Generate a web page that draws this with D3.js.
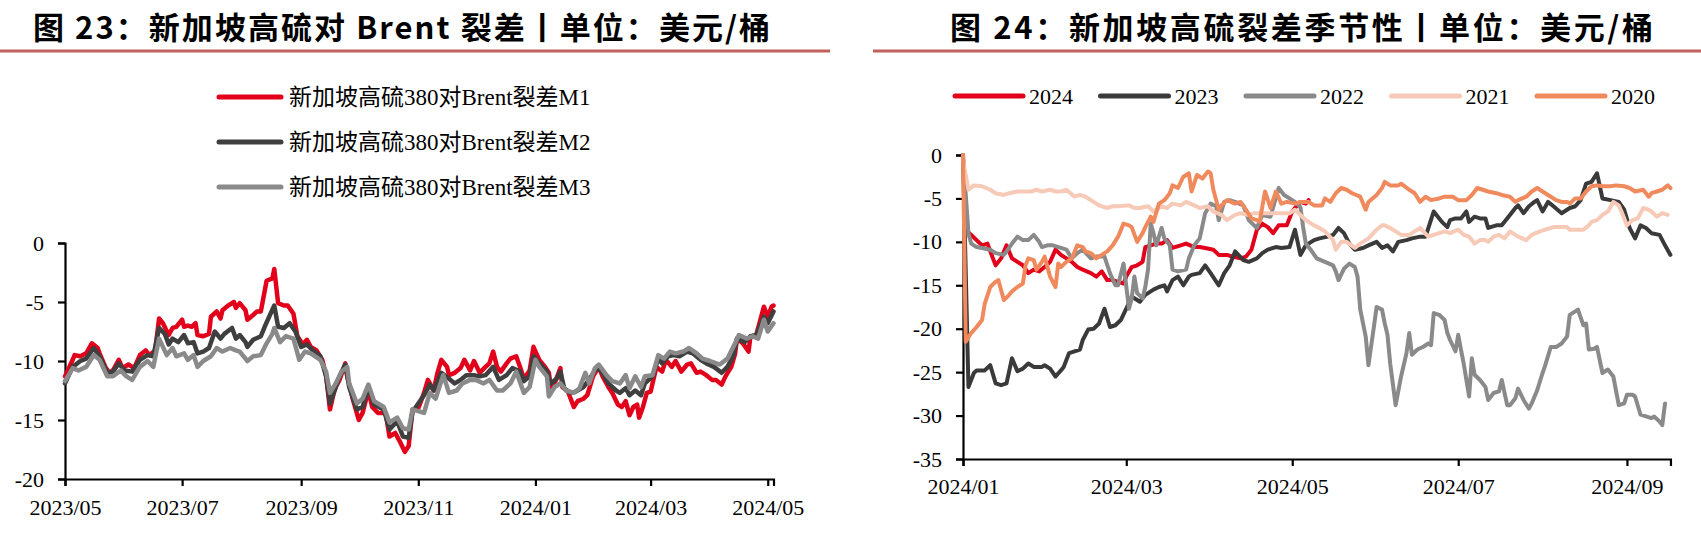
<!DOCTYPE html>
<html>
<head>
<meta charset="utf-8">
<script src="https://cdn.jsdelivr.net/npm/d3@7/dist/d3.min.js"></script>
<style>
    body { margin: 0; background: #fff; }
    svg text { font-family: "Liberation Serif", "Noto Sans CJK SC", serif; fill: #000; }
    .title { font-family: "Noto Sans CJK SC", sans-serif !important; font-weight: bold; }
</style>
</head>
<body>
<svg id="chart" width="1701" height="538"></svg>
<script>
// ---- left chart: 新加坡高硫380对Brent裂差 M1/M2/M3 ----
const leftNames = ["新加坡高硫380对Brent裂差M1", "新加坡高硫380对Brent裂差M2", "新加坡高硫380对Brent裂差M3"];
const leftColors = ["#e2001a", "#3f3f3f", "#8a8a8a"];
const leftXTicks = ["2023-05-01", "2023-07-01", "2023-09-01", "2023-11-01", "2024-01-01", "2024-03-01", "2024-05-01"];
const leftYTicks = [0, -5, -10, -15, -20];

const m1Dates = ["2023-05-01","2023-05-05","2023-05-06","2023-05-09","2023-05-12","2023-05-15","2023-05-18","2023-05-19","2023-05-22","2023-05-24","2023-05-26","2023-05-29","2023-05-31","2023-06-03","2023-06-06","2023-06-09","2023-06-12","2023-06-14","2023-06-17","2023-06-19","2023-06-21","2023-06-24","2023-06-26","2023-06-28","2023-07-01","2023-07-02","2023-07-04","2023-07-06","2023-07-08","2023-07-09","2023-07-12","2023-07-15","2023-07-16","2023-07-19","2023-07-21","2023-07-22","2023-07-25","2023-07-28","2023-07-29","2023-07-31","2023-08-03","2023-08-04","2023-08-07","2023-08-09","2023-08-11","2023-08-14","2023-08-17","2023-08-18","2023-08-20","2023-08-23","2023-08-25","2023-08-28","2023-08-30","2023-09-02","2023-09-04","2023-09-06","2023-09-09","2023-09-12","2023-09-14","2023-09-16","2023-09-18","2023-09-19","2023-09-21","2023-09-24","2023-09-25","2023-09-28","2023-10-01","2023-10-03","2023-10-06","2023-10-08","2023-10-11","2023-10-15","2023-10-17","2023-10-20","2023-10-22","2023-10-25","2023-10-27","2023-10-29","2023-11-01","2023-11-04","2023-11-06","2023-11-09","2023-11-11","2023-11-13","2023-11-16","2023-11-17","2023-11-20","2023-11-23","2023-11-25","2023-11-28","2023-11-30","2023-12-03","2023-12-06","2023-12-08","2023-12-10","2023-12-12","2023-12-14","2023-12-17","2023-12-19","2023-12-22","2023-12-24","2023-12-26","2023-12-29","2023-12-31","2024-01-01","2024-01-03","2024-01-06","2024-01-08","2024-01-09","2024-01-11","2024-01-14","2024-01-15","2024-01-18","2024-01-21","2024-01-23","2024-01-26","2024-01-28","2024-01-31","2024-02-03","2024-02-05","2024-02-08","2024-02-10","2024-02-13","2024-02-15","2024-02-17","2024-02-19","2024-02-21","2024-02-23","2024-02-24","2024-02-26","2024-02-28","2024-03-01","2024-03-04","2024-03-07","2024-03-09","2024-03-12","2024-03-14","2024-03-17","2024-03-20","2024-03-22","2024-03-25","2024-03-27","2024-03-30","2024-04-02","2024-04-04","2024-04-07","2024-04-09","2024-04-12","2024-04-14","2024-04-15","2024-04-18","2024-04-21","2024-04-22","2024-04-25","2024-04-28","2024-04-29","2024-05-01","2024-05-03","2024-05-04"];
const m1Values = [-11.3,-9.9,-9.5,-9.6,-9.35,-8.5,-8.9,-9.35,-10.5,-11,-10.8,-9.9,-10.6,-10.3,-10.6,-9.5,-9.1,-9.5,-9.1,-6.4,-6.8,-7.8,-7.2,-7.1,-6.5,-7.1,-7,-7.1,-6.8,-7.8,-7.9,-7.7,-6.25,-5.8,-6.4,-5.7,-5.3,-5,-5.5,-5.1,-5.7,-6.5,-6.1,-5.8,-5.8,-3.2,-3.0,-2.2,-5.1,-5.3,-5.3,-6,-7.9,-8.6,-8.2,-8.8,-9.1,-9.9,-11.3,-14.1,-12.7,-12.2,-11.6,-10.2,-11.3,-13.3,-15,-14.4,-12.5,-13.9,-14.4,-14.4,-16.4,-16.1,-16.7,-17.7,-17.2,-14.1,-14,-12.7,-11.6,-12.5,-11,-9.9,-10.5,-11.2,-11,-10.6,-9.9,-10.8,-10,-11,-10.5,-10.2,-9.2,-10.5,-10.9,-10.2,-9.8,-9.6,-10.5,-11.5,-10.8,-8.8,-9.2,-9.9,-10.5,-11,-12.2,-11.9,-10.6,-12.2,-12.6,-13.9,-13.4,-13.2,-12.9,-11.3,-10.5,-11.3,-12.2,-12.7,-13.7,-13.9,-13.4,-14.6,-13.9,-13.7,-14.8,-13.9,-12.7,-12.6,-10.5,-10.9,-9.9,-10.5,-10,-10.9,-10.3,-10.2,-11,-10.9,-11.2,-11.6,-11.6,-12,-11.3,-10.5,-9.4,-8.1,-8.5,-9.2,-7.9,-7.8,-6,-5.4,-6.25,-5.4,-5.3];

const m2Dates = ["2023-05-01","2023-05-05","2023-05-09","2023-05-12","2023-05-16","2023-05-19","2023-05-23","2023-05-26","2023-05-29","2023-06-01","2023-06-05","2023-06-09","2023-06-13","2023-06-16","2023-06-19","2023-06-22","2023-06-24","2023-06-26","2023-06-29","2023-07-02","2023-07-04","2023-07-07","2023-07-09","2023-07-12","2023-07-15","2023-07-18","2023-07-21","2023-07-23","2023-07-27","2023-07-29","2023-07-31","2023-08-03","2023-08-04","2023-08-07","2023-08-11","2023-08-13","2023-08-16","2023-08-18","2023-08-20","2023-08-23","2023-08-26","2023-08-29","2023-09-01","2023-09-04","2023-09-07","2023-09-11","2023-09-14","2023-09-16","2023-09-19","2023-09-21","2023-09-24","2023-09-26","2023-09-30","2023-10-03","2023-10-06","2023-10-09","2023-10-14","2023-10-17","2023-10-21","2023-10-24","2023-10-27","2023-10-29","2023-11-04","2023-11-07","2023-11-09","2023-11-13","2023-11-17","2023-11-20","2023-11-23","2023-11-26","2023-11-30","2023-12-03","2023-12-06","2023-12-10","2023-12-13","2023-12-17","2023-12-20","2023-12-24","2023-12-26","2023-12-29","2023-12-31","2024-01-03","2024-01-07","2024-01-09","2024-01-12","2024-01-14","2024-01-16","2024-01-19","2024-01-22","2024-01-26","2024-01-29","2024-02-02","2024-02-05","2024-02-08","2024-02-12","2024-02-14","2024-02-17","2024-02-19","2024-02-22","2024-02-25","2024-02-27","2024-03-02","2024-03-05","2024-03-07","2024-03-10","2024-03-13","2024-03-16","2024-03-20","2024-03-23","2024-03-27","2024-03-30","2024-04-03","2024-04-07","2024-04-10","2024-04-13","2024-04-15","2024-04-19","2024-04-22","2024-04-25","2024-04-29","2024-05-01","2024-05-04"];
const m2Values = [-11.9,-10.5,-10,-9.8,-8.9,-9.6,-11,-10.9,-10.2,-10.8,-10.9,-9.9,-9.5,-9.6,-7.2,-7.7,-8.6,-8.1,-8.4,-7.8,-8.5,-8.4,-9.35,-9.2,-8.9,-7.5,-8.1,-7.7,-7.2,-8.1,-7.8,-8.4,-8.8,-8.2,-7.9,-7.1,-6,-5.3,-7.1,-7.2,-6.8,-7.5,-8.8,-8.6,-9.1,-9.6,-11.3,-13.6,-12.2,-11.3,-10.3,-12.2,-14.1,-13.9,-12.2,-13.7,-14.1,-15.8,-15.1,-16.4,-16.5,-14.3,-12.9,-12,-12.5,-11,-11.5,-11.9,-11.6,-11.2,-11.2,-11.3,-11.2,-10.5,-11.6,-11.2,-10.6,-10.9,-11.7,-11.3,-9.6,-10.2,-10.9,-11.9,-11.5,-10.9,-12.3,-12.7,-12.6,-12.2,-11.6,-10.5,-11,-11.9,-12.5,-12.7,-12.3,-12.9,-12.5,-12.9,-11.9,-11.3,-9.8,-10.2,-9.6,-9.5,-9.6,-9.2,-9.35,-9.9,-10.2,-10.5,-11,-10.5,-9.6,-8.1,-8.4,-7.9,-7.8,-6.25,-6.8,-5.8];

const m3Dates = ["2023-05-01","2023-05-05","2023-05-08","2023-05-12","2023-05-16","2023-05-19","2023-05-23","2023-05-26","2023-05-30","2023-06-02","2023-06-05","2023-06-09","2023-06-13","2023-06-16","2023-06-19","2023-06-23","2023-06-26","2023-06-28","2023-07-02","2023-07-04","2023-07-07","2023-07-09","2023-07-12","2023-07-16","2023-07-19","2023-07-22","2023-07-26","2023-07-29","2023-07-31","2023-08-04","2023-08-07","2023-08-11","2023-08-14","2023-08-17","2023-08-18","2023-08-21","2023-08-24","2023-08-28","2023-08-31","2023-09-03","2023-09-06","2023-09-11","2023-09-14","2023-09-16","2023-09-19","2023-09-22","2023-09-25","2023-09-26","2023-09-30","2023-10-03","2023-10-06","2023-10-09","2023-10-14","2023-10-17","2023-10-21","2023-10-24","2023-10-27","2023-10-29","2023-11-04","2023-11-07","2023-11-10","2023-11-14","2023-11-17","2023-11-21","2023-11-24","2023-11-28","2023-12-01","2023-12-05","2023-12-08","2023-12-12","2023-12-15","2023-12-19","2023-12-22","2023-12-26","2023-12-29","2024-01-01","2024-01-03","2024-01-07","2024-01-08","2024-01-11","2024-01-14","2024-01-17","2024-01-21","2024-01-24","2024-01-27","2024-01-29","2024-02-01","2024-02-03","2024-02-07","2024-02-10","2024-02-14","2024-02-17","2024-02-19","2024-02-22","2024-02-25","2024-02-27","2024-03-02","2024-03-05","2024-03-08","2024-03-11","2024-03-14","2024-03-18","2024-03-21","2024-03-25","2024-03-28","2024-04-01","2024-04-06","2024-04-10","2024-04-14","2024-04-16","2024-04-20","2024-04-23","2024-04-26","2024-04-29","2024-05-01","2024-05-04"];
const m3Values = [-11.7,-10.6,-10.8,-10.5,-9.5,-9.9,-11.3,-11.3,-10.8,-11.3,-11.6,-10.5,-10,-10.5,-8.1,-9.5,-8.9,-9.6,-9.35,-9.9,-9.5,-10.5,-10,-9.6,-8.9,-9.2,-8.9,-9.1,-9.2,-10,-9.6,-9.5,-8.5,-7.7,-7.2,-8.4,-7.9,-8.1,-9.9,-9.2,-9.35,-9.9,-10.9,-12.7,-11.9,-10.9,-10.5,-11.9,-13.6,-13.2,-12,-13.4,-13.9,-15.2,-14.8,-15.7,-15.8,-14.1,-14.4,-12.7,-13.2,-11.2,-12.7,-12.5,-11.9,-11.6,-11.6,-11.9,-11.6,-12.5,-12.5,-11.9,-10.9,-12.7,-12.2,-9.9,-10.5,-11.3,-13,-12.2,-11.9,-12.5,-12.7,-12.3,-11,-11.9,-10.6,-10.3,-11.2,-11.7,-11.9,-11.2,-12.3,-11.3,-12.2,-11.3,-11.2,-9.5,-9.8,-9.2,-9.35,-9.2,-8.9,-9.35,-9.8,-10,-10.3,-9.8,-8.5,-7.8,-8.1,-7.9,-8.1,-6.5,-7.5,-6.8];

// ---- right chart: 季节性 (month-day on a 2024 axis) ----
const rightNames = ["2024", "2023", "2022", "2021", "2020"];
const rightColors = ["#e2001a", "#3a3a3a", "#8a8a8a", "#f6cab7", "#f08a5d"];
const rightXTicks = ["01-01", "03-01", "05-01", "07-01", "09-01"];
const rightYTicks = [0, -5, -10, -15, -20, -25, -30, -35];

const s2024Dates = ["01-02","01-06","01-08","01-10","01-12","01-13","01-15","01-17","01-19","01-21","01-23","01-25","01-27","01-29","01-31","02-02","02-04","02-06","02-08","02-10","02-12","02-14","02-17","02-19","02-21","02-23","02-25","02-27","02-29","03-01","03-03","03-05","03-07","03-08","03-10","03-12","03-14","03-16","03-18","03-21","03-23","03-26","03-28","03-30","04-02","04-04","04-07","04-09","04-12","04-14","04-16","04-18","04-20","04-22","04-24","04-26","04-29","05-01","05-02","05-04","05-06","05-07"];
const s2024Values = [-8.6,-9.8,-10.4,-10.2,-11.9,-12.7,-11.9,-10.4,-11.9,-12.3,-12.7,-13.6,-13.2,-13.4,-12.9,-12.3,-10.9,-11.5,-11.9,-12.3,-12.9,-13.2,-13.6,-14,-13.4,-14.4,-14.4,-14.6,-14.8,-14,-12.9,-12.7,-12.3,-10.6,-10.4,-10.2,-10.2,-9.8,-10.7,-10.4,-10.2,-10.6,-10.6,-10.7,-10.9,-11.5,-11.5,-11.7,-11.9,-11.7,-10.9,-8.6,-7.9,-8.3,-9.0,-8.1,-8.1,-6.5,-6.1,-5.4,-5.6,-5.2];

const s2023Dates = ["01-01","01-03","01-05","01-06","01-09","01-11","01-13","01-15","01-17","01-19","01-21","01-23","01-25","01-27","01-30","01-31","02-02","02-04","02-06","02-07","02-09","02-11","02-13","02-14","02-16","02-18","02-20","02-22","02-24","02-26","02-28","03-01","03-03","03-05","03-06","03-08","03-11","03-13","03-15","03-16","03-18","03-20","03-22","03-24","03-25","03-28","03-30","04-01","04-04","04-06","04-08","04-10","04-13","04-15","04-18","04-20","04-22","04-25","04-27","04-30","05-02","05-04","05-06","05-09","05-11","05-14","05-16","05-18","05-20","05-22","05-24","05-27","05-29","06-01","06-03","06-05","06-07","06-09","06-12","06-14","06-17","06-19","06-22","06-23","06-25","06-27","06-28","06-30","07-02","07-04","07-05","07-07","07-09","07-11","07-12","07-15","07-17","07-20","07-22","07-23","07-25","07-27","07-29","07-30","08-01","08-03","08-05","08-08","08-10","08-11","08-13","08-15","08-17","08-19","08-21","08-23","08-26","08-29","08-31","09-02","09-04","09-06","09-08","09-10","09-13","09-15","09-17"];
const s2023Values = [0,-26.7,-25.1,-24.8,-24.8,-24.2,-26.3,-26.5,-26.3,-23.4,-24.9,-24.6,-24,-24.4,-24.4,-24.2,-24.6,-25.5,-24.8,-24.4,-22.8,-22.6,-22.4,-21.3,-20.1,-20,-19.4,-17.7,-19.8,-19.6,-19,-17.7,-16.3,-16.7,-16.9,-16.1,-15.5,-15.2,-15,-15.7,-14.4,-14,-15,-14,-13.8,-13.6,-12.7,-13.6,-15,-13.6,-12.7,-11.1,-12.1,-12.3,-11.9,-11.3,-10.9,-10.6,-10.7,-10.6,-8.6,-11.5,-10.4,-9.8,-9.6,-9.4,-9.2,-8.4,-9,-10.2,-10.9,-10.7,-10.4,-10,-10.7,-10.4,-11.1,-10,-9.8,-9.6,-9.4,-9.4,-6.5,-6.9,-7.7,-8.3,-7.5,-7.3,-7.3,-6.5,-7.7,-7.1,-7.3,-7.3,-8.4,-8.1,-8.1,-6.9,-6.1,-5.8,-6.7,-5.9,-5.4,-5.2,-6.5,-5.4,-5.9,-6.7,-6.3,-6.1,-5.9,-5.2,-3.3,-3.1,-2.1,-5,-5.2,-5.4,-6.3,-8.4,-9.6,-8.1,-8.4,-9,-9.2,-10.4,-11.5];

const s2022Dates = ["01-01","01-03","01-04","01-06","01-08","01-11","01-13","01-16","01-17","01-19","01-21","01-23","01-25","01-27","01-29","01-30","02-01","02-03","02-06","02-08","02-10","02-12","02-14","02-17","02-19","02-22","02-24","02-26","02-27","02-29","03-02","03-03","03-04","03-05","03-07","03-08","03-09","03-10","03-11","03-12","03-14","03-15","03-17","03-18","03-20","03-23","03-24","03-26","03-28","03-30","04-01","04-03","04-04","04-06","04-08","04-10","04-13","04-15","04-18","04-20","04-23","04-26","04-28","04-30","05-02","05-04","05-05","05-06","05-08","05-10","05-13","05-16","05-17","05-18","05-20","05-22","05-24","05-25","05-26","05-28","05-29","05-31","06-01","06-03","06-04","06-05","06-06","06-08","06-10","06-12","06-13","06-14","06-16","06-18","06-20","06-21","06-22","06-24","06-26","06-27","06-28","06-30","07-01","07-02","07-03","07-05","07-06","07-07","07-09","07-11","07-12","07-14","07-16","07-17","07-19","07-20","07-22","07-23","07-25","07-27","07-28","07-30","08-01","08-02","08-04","08-06","08-08","08-10","08-11","08-13","08-14","08-16","08-17","08-18","08-20","08-21","08-23","08-25","08-27","08-29","08-31","09-01","09-03","09-04","09-06","09-08","09-10","09-11","09-13","09-14","09-15"];
const s2022Values = [0,-9,-10.2,-10.6,-10.7,-10.9,-11.3,-11.5,-11.1,-10.2,-9.4,-9.8,-9.8,-9.2,-10,-10.6,-10.4,-10.4,-10.7,-10.9,-11.9,-11.3,-10.9,-11.9,-11.7,-11.7,-13.6,-15,-15,-12.5,-17.7,-16.5,-14,-15.9,-16.5,-15.2,-13.2,-7.9,-9,-10.4,-8.4,-9.6,-10.4,-13.2,-13.4,-13.2,-11.9,-10.4,-9.6,-6.7,-5.6,-5.9,-7.5,-5.4,-5.2,-5.4,-5.8,-7.5,-8.4,-6.9,-7.1,-3.8,-4.6,-5,-5.4,-6,-8.3,-10.2,-11,-11.9,-12.3,-12.7,-13.4,-14.4,-13.1,-12.5,-12.9,-14,-17.8,-20.9,-24.2,-19.8,-17.5,-17.8,-19.4,-20.7,-24,-28.8,-25.5,-22.8,-20.5,-23,-22.4,-22.1,-21.7,-21.9,-18.2,-18.4,-19,-20.5,-21.3,-22.6,-20.7,-22.4,-24,-27.8,-23.4,-25.3,-25.9,-26.7,-28.2,-27.4,-27.2,-25.9,-28.8,-28.8,-28,-26.9,-28.2,-29.2,-28.6,-27.1,-25.1,-24.2,-22.1,-22.1,-21.7,-20.9,-18.4,-18,-17.8,-19.6,-19.4,-22.4,-22.3,-22.1,-25.1,-24.7,-25.5,-28.8,-28.6,-27.6,-27.6,-27.8,-29.9,-30.1,-30.3,-30.1,-30.7,-31.1,-28.6];

const s2021Dates = ["01-01","01-03","01-05","01-08","01-11","01-13","01-16","01-18","01-21","01-23","01-26","01-28","01-30","02-02","02-04","02-06","02-08","02-11","02-13","02-15","02-18","02-20","02-23","02-25","02-27","03-02","03-04","03-06","03-09","03-11","03-14","03-16","03-18","03-21","03-23","03-26","03-28","03-31","04-02","04-05","04-07","04-10","04-12","04-15","04-17","04-20","04-22","04-26","04-30","05-02","05-04","05-06","05-09","05-11","05-13","05-16","05-17","05-19","05-21","05-24","05-26","05-29","06-01","06-03","06-04","06-06","06-08","06-10","06-13","06-15","06-17","06-20","06-22","06-24","06-26","06-28","07-01","07-03","07-05","07-07","07-09","07-11","07-12","07-14","07-16","07-18","07-20","07-22","07-23","07-26","07-28","07-31","08-02","08-05","08-07","08-10","08-11","08-13","08-16","08-18","08-19","08-21","08-23","08-25","08-27","08-29","08-30","09-01","09-03","09-05","09-07","09-09","09-10","09-12","09-14","09-16"];
const s2021Values = [-0.6,-4,-3.5,-3.6,-4,-4.4,-4.6,-4.4,-4.2,-4.2,-4.2,-4,-4.2,-4,-4.2,-4.2,-4,-4.8,-4.6,-4.8,-5.4,-5.8,-6.1,-5.9,-5.9,-5.8,-6.1,-6.1,-5.9,-6.5,-5.9,-6.1,-5.6,-5.8,-5.4,-5.8,-6.1,-5.9,-6.5,-6.9,-7.5,-6.9,-6.7,-6.9,-6.7,-6.7,-6.7,-6.7,-6.7,-6.3,-6.9,-7.5,-8.1,-8.4,-8.8,-9.8,-10.9,-10,-10,-10.7,-10.2,-9.6,-8.6,-8.1,-8.1,-8.4,-8.8,-9.2,-9.2,-8.8,-8.4,-9.4,-9.2,-9,-8.8,-9,-8.6,-9.2,-9.4,-10.2,-9.8,-9.8,-10,-9.4,-9.2,-9.6,-8.8,-9.2,-9.4,-9.8,-9.2,-8.8,-8.6,-8.3,-8.3,-8.3,-8.6,-8.6,-8.6,-8.1,-7.7,-7.5,-6.9,-6.5,-5.4,-5.8,-6.5,-8.1,-7.5,-7.3,-6.1,-6.3,-6.5,-7.1,-6.7,-6.9];

const s2020Dates = ["01-01","01-02","01-04","01-06","01-08","01-09","01-11","01-13","01-14","01-16","01-18","01-19","01-21","01-23","01-24","01-25","01-27","01-28","01-30","01-31","02-02","02-04","02-05","02-06","02-08","02-10","02-12","02-14","02-15","02-17","02-19","02-21","02-23","02-25","02-27","02-29","03-02","03-03","03-05","03-07","03-08","03-10","03-11","03-13","03-15","03-17","03-18","03-20","03-22","03-24","03-25","03-27","03-29","03-31","04-01","04-02","04-04","04-05","04-07","04-10","04-12","04-14","04-16","04-18","04-19","04-21","04-23","04-25","04-27","04-29","05-02","05-04","05-07","05-09","05-12","05-13","05-15","05-17","05-19","05-21","05-23","05-26","05-28","05-29","06-01","06-03","06-04","06-06","06-09","06-10","06-13","06-15","06-17","06-19","06-21","06-24","06-26","06-29","07-01","07-04","07-06","07-08","07-10","07-12","07-15","07-17","07-20","07-22","07-23","07-26","07-28","07-30","08-01","08-03","08-06","08-08","08-10","08-11","08-13","08-15","08-17","08-19","08-21","08-23","08-26","08-28","08-31","09-02","09-04","09-07","09-09","09-10","09-12","09-14","09-16","09-17"];
const s2020Values = [0,-21.5,-20.5,-19.8,-19,-17.1,-15.2,-14.6,-14.4,-16.7,-16.1,-15.7,-15.2,-14.8,-12.7,-11.9,-12.1,-13.2,-12.3,-11.7,-14,-15.2,-12.5,-12.9,-12.3,-11.9,-10.4,-10.6,-11.1,-11.3,-11.9,-11.5,-11.1,-10.4,-9.4,-7.9,-8.1,-8.3,-10,-9,-8.3,-7.1,-7.7,-5.6,-5.2,-4.4,-3.5,-3.8,-2.5,-2.1,-4.2,-2.3,-2.7,-1.9,-2.1,-4,-6.3,-5.8,-5.2,-5.6,-5.4,-6.3,-7.3,-7.5,-7.7,-4.2,-6.1,-4.2,-5.6,-5.4,-5.6,-5.4,-5.4,-5.8,-5.8,-5,-5.4,-4.4,-3.8,-4,-4.4,-4.8,-6.3,-5.4,-4.6,-3.8,-3.1,-3.5,-3.5,-3.3,-4,-4.4,-5.4,-4.8,-5.2,-5,-4.8,-4.8,-5.2,-5.2,-4.6,-3.8,-4,-4.2,-4.4,-4.6,-4.8,-5.4,-5.2,-4.8,-4.2,-3.8,-4.2,-4.6,-5.2,-5.4,-5.4,-5.6,-5,-5,-4.2,-3.6,-3.5,-3.6,-3.6,-3.5,-3.6,-3.8,-4.2,-4,-4.8,-4.4,-4.2,-4,-3.5,-3.8];

const parseDate = d3.timeParse("%Y-%m-%d");
const parseMonthDay = md => parseDate("2024-" + md);
const svg = d3.select("#chart");

function zip(dates, values, parser) {
    return dates.map((d, i) => ({ date: parser(d), value: values[i] }));
}

function drawTitle(text, textX0, textX1, lineX0, lineX1) {
    svg.append("text")
        .attr("class", "title")
        .attr("x", textX0)
        .attr("y", 39)
        .attr("textLength", textX1 - textX0)
        .attr("lengthAdjust", "spacing")
        .style("font-size", "31px")
        .text(text);

    svg.append("line")
        .attr("x1", lineX0).attr("x2", lineX1)
        .attr("y1", 51).attr("y2", 51)
        .attr("stroke", "#c0615b")
        .attr("stroke-width", 3);
}

function drawAxes(g, x, y, xTickDates, yTicks, xPadding) {
    const xAxis = g.append("g")
        .attr("transform", `translate(0,${y.range()[0]})`)
        .call(d3.axisBottom(x)
            .tickValues(xTickDates)
            .tickFormat(d3.timeFormat("%Y/%m"))
            .tickSizeOuter(0)
            .tickSize(7)
            .tickPadding(xPadding));

    const yAxis = g.append("g")
        .attr("transform", `translate(${x.range()[0]},0)`)
        .call(d3.axisLeft(y)
            .tickValues(yTicks)
            .tickFormat(d => String(d))
            .tickSizeOuter(0)
            .tickSize(7)
            .tickPadding(14));

    [xAxis, yAxis].forEach(a => {
        a.select(".domain").attr("stroke", "#000").attr("stroke-width", 2.2);
        a.selectAll(".tick line").attr("stroke", "#000").attr("stroke-width", 2.2);
        a.selectAll(".tick text")
            .style("font-size", "22px")
            .style("font-family", "Liberation Serif")
            .attr("fill", "#000");
    });
}

function drawLines(g, x, y, seriesList, colors, width) {
    const line = d3.line()
        .x(d => x(d.date))
        .y(d => y(d.value));

    seriesList.forEach((data, i) => {
        g.append("path")
            .datum(data)
            .attr("fill", "none")
            .attr("stroke", colors[i])
            .attr("stroke-width", width)
            .attr("stroke-linejoin", "round")
            .attr("stroke-linecap", "round")
            .attr("d", line);
    });
}

function drawLeft() {
    const g = svg.append("g");
    const x = d3.scaleTime()
        .domain([parseDate("2023-05-01"), parseDate("2024-05-04")])
        .range([65, 773.5]);
    const y = d3.scaleLinear().domain([-20, 0]).range([479, 243]);

    drawAxes(g, x, y, leftXTicks.map(parseDate), leftYTicks, 13);

    const series = [
        zip(m1Dates, m1Values, parseDate),
        zip(m2Dates, m2Values, parseDate),
        zip(m3Dates, m3Values, parseDate)
    ];
    drawLines(g, x, y, series, leftColors, 4.5);

    // legend, stacked
    const legend = g.append("g");
    leftNames.forEach((name, i) => {
        const ly = 97 + i * 45;
        legend.append("line")
            .attr("x1", 219).attr("x2", 281)
            .attr("y1", ly).attr("y2", ly)
            .attr("stroke", leftColors[i])
            .attr("stroke-width", 5)
            .attr("stroke-linecap", "round");
        legend.append("text")
            .attr("x", 289)
            .attr("y", ly)
            .attr("dy", "0.35em")
            .style("font-size", "23px")
            .text(name);
    });
}

function drawRight() {
    const g = svg.append("g");
    const x = d3.scaleTime()
        .domain([parseMonthDay("01-01"), parseMonthDay("09-17")])
        .range([963, 963 + 260 * 2.721]);
    const y = d3.scaleLinear().domain([-35, 0]).range([459, 155]);

    drawAxes(g, x, y, rightXTicks.map(parseMonthDay), rightYTicks, 12);

    const series = [
        zip(s2024Dates, s2024Values, parseMonthDay),
        zip(s2023Dates, s2023Values, parseMonthDay),
        zip(s2022Dates, s2022Values, parseMonthDay),
        zip(s2021Dates, s2021Values, parseMonthDay),
        zip(s2020Dates, s2020Values, parseMonthDay)
    ];
    drawLines(g, x, y, series, rightColors, 4);

    // legend, one row
    const legend = g.append("g");
    rightNames.forEach((name, i) => {
        const lx = 955 + i * 145.5;
        legend.append("line")
            .attr("x1", lx).attr("x2", lx + 68)
            .attr("y1", 96).attr("y2", 96)
            .attr("stroke", rightColors[i])
            .attr("stroke-width", 5)
            .attr("stroke-linecap", "round");
        legend.append("text")
            .attr("x", lx + 74)
            .attr("y", 96)
            .attr("dy", "0.35em")
            .style("font-size", "22px")
            .text(name);
    });
}

drawTitle("图 23：新加坡高硫对 Brent 裂差丨单位：美元/桶", 33, 770, 0, 830);
drawTitle("图 24：新加坡高硫裂差季节性丨单位：美元/桶", 950, 1653, 873, 1701);
drawLeft();
drawRight();
</script>
</body>
</html>
